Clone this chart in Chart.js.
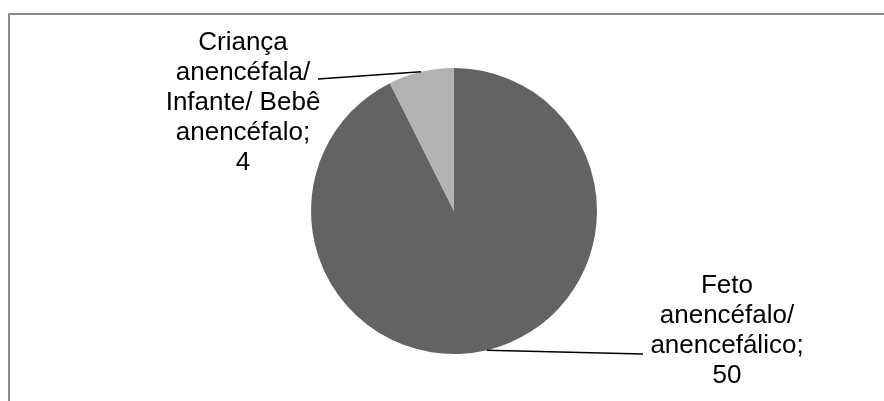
<!DOCTYPE html>
<html>
<head>
<meta charset="utf-8">
<script src="https://cdn.jsdelivr.net/npm/chart.js@4"></script>
<style>
    html, body { margin: 0; padding: 0; background: #fff; }
    #wrap { width: 884px; height: 401px; }
</style>
</head>
<body>
<div id="wrap"><canvas id="chartPie" width="884" height="401"></canvas></div>
<script>
// categories (one entry per line of the label) and counts
var categories = [
    ["Feto", "anencéfalo/", "anencefálico"],
    ["Criança", "anencéfala/", "Infante/ Bebê", "anencéfalo"]
];
var counts = [50, 4];
var sliceColors = ["#636363", "#b2b2b2"];

// where each label block sits and where its leader line ends
var labelLayout = [
    { x: 727, y: 293, lineX: 643, lineY: 354 },
    { x: 243, y: 50, lineX: 318, lineY: 79 }
];

var frame = {
    id: 'frame',
    beforeDraw: function (chart) {
        var ctx = chart.ctx;
        ctx.save();
        ctx.strokeStyle = "#8a8a8a";
        ctx.lineWidth = 2;
        ctx.strokeRect(9, 14, 2000, 2000);
        ctx.restore();
    }
};

var pieLabels = {
    id: 'pieLabels',
    afterDatasetsDraw: function (chart) {
        var ctx = chart.ctx;
        var meta = chart.getDatasetMeta(0);
        ctx.save();
        ctx.font = "26px 'Liberation Sans', Arial, sans-serif";
        ctx.fillStyle = "#000";
        ctx.textAlign = "center";
        ctx.textBaseline = "alphabetic";
        meta.data.forEach(function (arc, i) {
            var p = arc.getProps(['x', 'y', 'startAngle', 'endAngle', 'outerRadius'], true);
            var mid = (p.startAngle + p.endAngle) / 2;
            var ax = p.x + Math.cos(mid) * p.outerRadius;
            var ay = p.y + Math.sin(mid) * p.outerRadius;
            var pos = labelLayout[i];

            ctx.beginPath();
            ctx.strokeStyle = "#000";
            ctx.lineWidth = 1.5;
            ctx.moveTo(ax, ay);
            ctx.lineTo(pos.lineX, pos.lineY);
            ctx.stroke();

            var lines = chart.data.labels[i].slice();
            lines[lines.length - 1] += ";";
            lines.push(String(chart.data.datasets[0].data[i]));
            lines.forEach(function (txt, k) {
                ctx.fillText(txt, pos.x, pos.y + k * 30);
            });
        });
        ctx.restore();
    }
};

new Chart(document.getElementById("chartPie"), {
    type: 'pie',
    data: {
        labels: categories,
        datasets: [{
            data: counts,
            backgroundColor: sliceColors,
            borderWidth: 0
        }]
    },
    options: {
        responsive: false,
        animation: false,
        layout: {
            padding: { top: 68, bottom: 47, left: 311, right: 287 }
        },
        plugins: {
            legend: { display: false },
            tooltip: { enabled: false }
        }
    },
    plugins: [frame, pieLabels]
});
</script>
</body>
</html>
